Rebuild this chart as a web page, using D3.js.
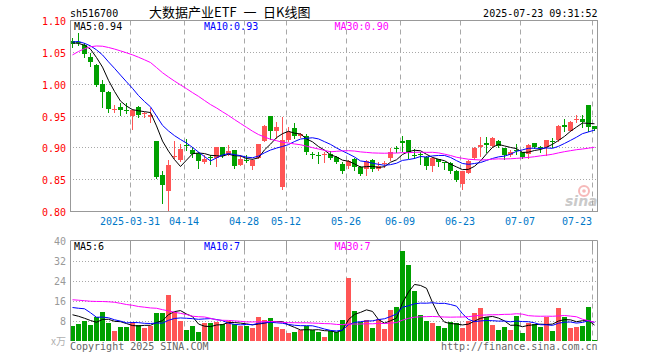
<!DOCTYPE html>
<html><head><meta charset="utf-8">
<script src="https://cdn.jsdelivr.net/npm/d3@7/dist/d3.min.js"></script>
<style>
body{margin:0;background:#fff}
svg{display:block}
text{font-family:"DejaVu Sans Mono",monospace;font-size:10px}
</style>
</head><body>
<svg id="c" width="660" height="360"></svg>
<script>
// ---------------- data ----------------
const dates = [
"2025-03-17","2025-03-18","2025-03-19","2025-03-20","2025-03-21","2025-03-24","2025-03-25","2025-03-26","2025-03-27","2025-03-28","2025-03-31",
"2025-04-01","2025-04-02","2025-04-03","2025-04-07","2025-04-08","2025-04-09","2025-04-10","2025-04-11","2025-04-14","2025-04-15","2025-04-16","2025-04-17","2025-04-18","2025-04-21","2025-04-22","2025-04-23","2025-04-24","2025-04-25","2025-04-28","2025-04-29","2025-04-30",
"2025-05-06","2025-05-07","2025-05-08","2025-05-09","2025-05-12","2025-05-13","2025-05-14","2025-05-15","2025-05-16","2025-05-19","2025-05-20","2025-05-21","2025-05-22","2025-05-23","2025-05-26","2025-05-27","2025-05-28","2025-05-29","2025-05-30",
"2025-06-03","2025-06-04","2025-06-05","2025-06-06","2025-06-09","2025-06-10","2025-06-11","2025-06-12","2025-06-13","2025-06-16","2025-06-17","2025-06-18","2025-06-19","2025-06-20","2025-06-23","2025-06-24","2025-06-25","2025-06-26","2025-06-27","2025-06-30",
"2025-07-01","2025-07-02","2025-07-03","2025-07-04","2025-07-07","2025-07-08","2025-07-09","2025-07-10","2025-07-11","2025-07-14","2025-07-15","2025-07-16","2025-07-17","2025-07-18","2025-07-21","2025-07-22","2025-07-23"];

const open = [1.068,1.067,1.061,1.043,1.030,1.000,0.988,0.960,0.9635,0.960,
0.950,0.964,0.953,0.948,0.911,0.857,0.832,0.885,0.881,0.905,
0.897,0.892,0.878,0.885,0.884,0.901,0.891,0.896,0.873,0.8815,
0.871,0.884,0.911,0.950,0.926,0.838,0.913,0.931,0.919,0.918,
0.890,0.8885,0.890,0.891,0.885,0.875,0.871,0.882,0.870,0.867,
0.881,0.867,0.875,0.884,0.900,0.910,0.912,0.888,0.891,0.885,
0.871,0.882,0.877,0.876,0.864,0.843,0.861,0.884,0.902,0.907,
0.903,0.911,0.899,0.888,0.896,0.893,0.890,0.907,0.902,0.901,
0.910,0.912,0.936,0.927,0.944,0.945,0.967,0.934];
const high = [1.072,1.080,1.064,1.049,1.031,1.007,0.990,0.967,0.970,0.971,
0.961,0.965,0.957,0.963,0.911,0.863,0.881,0.911,0.906,0.9135,
0.901,0.893,0.889,0.889,0.901,0.901,0.905,0.897,0.889,0.889,
0.882,0.906,0.936,0.950,0.941,0.948,0.932,0.939,0.923,0.921,
0.894,0.893,0.894,0.895,0.887,0.877,0.881,0.884,0.871,0.881,
0.882,0.878,0.880,0.899,0.903,0.918,0.913,0.898,0.894,0.887,
0.886,0.883,0.878,0.878,0.865,0.864,0.881,0.902,0.917,0.917,
0.917,0.913,0.900,0.896,0.906,0.894,0.906,0.908,0.903,0.913,
0.915,0.936,0.946,0.942,0.951,0.951,0.968,0.935];
const low = [1.058,1.062,1.042,1.028,0.997,0.964,0.957,0.957,0.9515,0.955,
0.930,0.948,0.949,0.941,0.852,0.8135,0.8005,0.884,0.879,0.897,
0.886,0.868,0.876,0.874,0.871,0.885,0.889,0.868,0.873,0.877,
0.866,0.884,0.910,0.914,0.915,0.835,0.910,0.916,0.917,0.891,
0.884,0.876,0.877,0.882,0.876,0.860,0.869,0.865,0.857,0.858,
0.863,0.865,0.870,0.881,0.893,0.895,0.884,0.884,0.875,0.866,
0.863,0.872,0.867,0.861,0.848,0.835,0.860,0.883,0.887,0.894,
0.901,0.902,0.883,0.887,0.891,0.884,0.884,0.900,0.894,0.888,
0.902,0.910,0.926,0.926,0.941,0.933,0.926,0.928];
const close = [1.063,1.065,1.048,1.035,0.998,0.988,0.961,0.961,0.959,0.959,
0.960,0.952,0.954,0.952,0.854,0.841,0.873,0.8875,0.898,0.904,
0.891,0.879,0.883,0.884,0.901,0.887,0.895,0.871,0.882,0.881,
0.881,0.906,0.934,0.927,0.932,0.912,0.925,0.919,0.921,0.893,
0.889,0.888,0.891,0.884,0.877,0.863,0.880,0.870,0.859,0.880,
0.866,0.871,0.876,0.894,0.899,0.908,0.893,0.887,0.890,0.871,
0.884,0.878,0.876,0.863,0.849,0.863,0.880,0.900,0.905,0.904,
0.915,0.903,0.888,0.893,0.895,0.885,0.905,0.901,0.901,0.912,
0.909,0.935,0.933,0.941,0.945,0.941,0.932,0.930];
// volume in 万 (10k)
const volume = [6.2,7.0,8.2,6.6,9.5,11.8,7.3,4.2,5.8,5.8,
7.8,6.5,5.4,5.9,11.4,11.4,18.6,11.5,7.9,4.6,
6.2,3.8,7.1,7.1,7.8,7.0,8.1,7.0,5.9,6.2,
5.1,9.8,8.6,9.4,5.8,5.0,3.4,3.7,4.3,6.2,
4.6,3.8,1.7,3.9,3.5,8.6,25.1,12.2,7.8,8.6,
5.4,8.9,5.0,12.6,13.8,35.9,30.6,20.2,10.6,8.2,
7.3,6.2,5.4,7.8,7.3,5.4,7.9,11.4,13.4,9.8,
6.6,4.6,5.8,4.6,10.2,3.4,7.3,7.0,5.8,9.5,
4.2,13.4,9.8,5.4,5.8,6.2,13.8,0.6];
// sessions before the visible window (estimated from where the MA lines start)
const prevClose = [0.905,0.920,0.940,0.961,1.000,1.020,1.035,1.045,1.050,1.055,1.065,1.075,1.081,
1.090,1.085,1.075,1.080,1.078,1.082,1.0765,1.055,1.078,1.075,1.060,1.068,1.070,1.062,1.066,1.064];
const prevVolume = [12.5,14.0,13.3,11.8,12.5,10.5,10.0,18.6,20.0,17.3,21.0,13.7,15.0,15.0,
28.5,33.0,28.0,21.5,18.0,26.8,10.0,10.2,22.6,27.5,11.2,10.0,12.2,11.1,13.0];

const priceTicks = [0.80,0.85,0.90,0.95,1.00,1.05,1.10];
const volTicks = [8,16,24,32,40];
const tickDates = ["2025-03-31","2025-04-14","2025-04-28","2025-05-12","2025-05-26","2025-06-09","2025-06-23","2025-07-07","2025-07-23"];
const tickLabels = ["2025-03-31","04-14","04-28","05-12","05-26","06-09","06-23","07-07","07-23"];
const maPeriods = [5,10,30];

// ---------------- drawing ----------------
const RED = "#ff5555", GREEN = "#00a000", GRID = "#a8a8a8", FRAME = "#999";
const maColors = ["#000000","#0000ff","#ff00ff"];
const svg = d3.select("#c");
const L = 70, R = 598, PT = 20.5, PB = 211.5, VT = 241, VB = 341;
const n = dates.length;
const x = d3.scaleBand().domain(d3.range(n)).range([L, R]);
const bw = x.bandwidth() - 1;
const cx = i => x(i) + 2.5;
const y = d3.scaleLinear().domain([0.80, 1.10]).range([PB, PT]);
const yv = d3.scaleLinear().domain([0, 40]).range([VB, VT]);
const crisp = v => Math.round(v - 0.5) + 0.5;

function movingAvg(prev, arr, p) {
  const full = prev.concat(arr), off = prev.length;
  return arr.map((_, i) => d3.mean(full.slice(off + i - p + 1, off + i + 1)));
}
const isUp = i => close[i] >= open[i];
const tickIdx = tickDates.map(d => dates.indexOf(d));

// ---- price panel grid
const gp = svg.append("g");
gp.selectAll("line.h").data(priceTicks.slice(1, -1)).enter().append("line")
  .attr("x1", L).attr("x2", R - 1).attr("y1", d => crisp(y(d))).attr("y2", d => crisp(y(d)))
  .attr("stroke", GRID).attr("stroke-dasharray", "1,2");
gp.selectAll("line.v").data(tickIdx).enter().append("line")
  .attr("x1", d => x(d) + 0.5).attr("x2", d => x(d) + 0.5).attr("y1", PT).attr("y2", PB)
  .attr("stroke", GRID).attr("stroke-dasharray", "5,4");
gp.selectAll("line.t").data(tickIdx).enter().append("line")
  .attr("x1", d => x(d) + 0.5).attr("x2", d => x(d) + 0.5).attr("y1", PB - 3).attr("y2", PB)
  .attr("stroke", FRAME);

// ---- candles
const cg = svg.append("g");
d3.range(n).forEach(i => {
  const col = isUp(i) ? RED : GREEN;
  cg.append("line").attr("x1", cx(i)).attr("x2", cx(i))
    .attr("y1", Math.round(y(high[i]))).attr("y2", Math.round(y(low[i])) + 1)
    .attr("stroke", col);
  const top = Math.round(y(Math.max(open[i], close[i])));
  const bot = Math.round(y(Math.min(open[i], close[i])));
  cg.append("rect").attr("x", x(i)).attr("width", bw)
    .attr("y", top).attr("height", Math.max(1, bot - top)).attr("fill", col);
});

// ---- price MAs
const priceMA = maPeriods.map(p => movingAvg(prevClose, close, p));
const line = d3.line().x((d, i) => cx(i)).y(d => y(d));
priceMA.forEach((ma, k) => {
  svg.append("path").attr("d", line(ma)).attr("fill", "none")
    .attr("stroke", maColors[k]).attr("stroke-width", 1);
});

// ---- price frame
svg.append("rect").attr("x", L + 0.5).attr("y", PT).attr("width", R - L - 1).attr("height", PB - PT)
  .attr("fill", "none").attr("stroke", FRAME);

// ---- price axis labels
svg.selectAll("text.py").data(priceTicks).enter().append("text")
  .attr("x", 66).attr("y", d => y(d) + 4.5).attr("text-anchor", "end")
  .attr("fill", "#ff0000").text(d => d.toFixed(2));

// ---- date labels
svg.selectAll("text.dx").data(tickIdx).enter().append("text")
  .attr("x", (d, k) => k === tickIdx.length - 1 ? x(d) : x(d))
  .attr("y", 224.5)
  .attr("text-anchor", (d, k) => k === tickIdx.length - 1 ? "end" : "middle")
  .attr("fill", "#0078c8").text((d, k) => tickLabels[k]);

// ---- header
svg.append("text").attr("x", 70).attr("y", 16.5).attr("fill", "#000").text("sh516700");
const tf = "'Noto Sans CJK SC',sans-serif";
svg.append("text").attr("x", 149).attr("y", 17).style("font-family", tf).style("font-size", "13px")
  .attr("fill", "#000").text("大数据产业ETF");
svg.append("text").attr("x", 250).attr("y", 17).attr("text-anchor", "middle").style("font-family", tf)
  .style("font-size", "13px").attr("fill", "#000").text("一");
svg.append("text").attr("x", 263).attr("y", 17).style("font-family", tf).style("font-size", "13px")
  .attr("fill", "#000").text("日K线图");
svg.append("text").attr("x", 597.5).attr("y", 16.5).attr("text-anchor", "end").attr("fill", "#000")
  .text("2025-07-23 09:31:52");

const maX = [74, 204, 334.5];
priceMA.forEach((ma, k) => {
  svg.append("text").attr("x", maX[k]).attr("y", 29.5).attr("fill", maColors[k])
    .text("MA" + maPeriods[k] + ":" + ma[n - 1].toFixed(2));
});

// ---- sina logo
const lg = svg.append("g").attr("opacity", 0.55);
lg.append("circle").attr("cx", 584).attr("cy", 191).attr("r", 5).attr("fill", "none")
  .attr("stroke", "#f08080").attr("stroke-width", 2);
lg.append("circle").attr("cx", 584).attr("cy", 191).attr("r", 1.8).attr("fill", "#f08080");
lg.append("text").attr("x", 565).attr("y", 206).style("font-family", "'DejaVu Sans',sans-serif")
  .style("font-size", "14px").style("font-style", "italic").style("font-weight", "bold")
  .attr("fill", "#a0a0a0").text("sina");

// ---- volume panel grid
const gv = svg.append("g");
gv.selectAll("line.h").data(volTicks.slice(0, -1)).enter().append("line")
  .attr("x1", L).attr("x2", R - 1).attr("y1", d => crisp(yv(d))).attr("y2", d => crisp(yv(d)))
  .attr("stroke", GRID).attr("stroke-dasharray", "1,2");
gv.selectAll("line.v").data(tickIdx).enter().append("line")
  .attr("x1", d => x(d) + 0.5).attr("x2", d => x(d) + 0.5).attr("y1", VT - 0.5).attr("y2", VB)
  .attr("stroke", GRID).attr("stroke-dasharray", "5,4");
gv.selectAll("line.t").data(tickIdx).enter().append("line")
  .attr("x1", d => x(d) + 0.5).attr("x2", d => x(d) + 0.5).attr("y1", VT - 0.5).attr("y2", VT + 9)
  .attr("stroke", FRAME);

// ---- volume bars
svg.append("g").selectAll("rect").data(volume).enter().append("rect")
  .attr("x", (d, i) => x(i)).attr("width", bw)
  .attr("y", d => Math.round(yv(d))).attr("height", d => VB - Math.round(yv(d)))
  .attr("fill", (d, i) => isUp(i) ? RED : GREEN);

// ---- volume MAs
const volMA = maPeriods.map(p => movingAvg(prevVolume, volume, p));
const vline = d3.line().x((d, i) => cx(i)).y(d => yv(d));
volMA.forEach((ma, k) => {
  svg.append("path").attr("d", vline(ma)).attr("fill", "none")
    .attr("stroke", maColors[k]).attr("stroke-width", 1);
});

// ---- volume frame (left, top, right)
svg.append("path").attr("d", `M${L + 0.5},${VB}V${VT - 0.5}H${R - 0.5}V${VB}`)
  .attr("fill", "none").attr("stroke", FRAME);

svg.selectAll("text.vy").data(volTicks).enter().append("text")
  .attr("x", 66).attr("y", d => yv(d) + 3.5).attr("text-anchor", "end")
  .attr("fill", "#999").text(d => d);
svg.append("text").attr("x", 66).attr("y", 344.5).attr("text-anchor", "end")
  .style("font-family", "'Noto Sans CJK SC',sans-serif").style("font-size", "10px")
  .attr("fill", "#b0b0b0").text("x万");

volMA.forEach((ma, k) => {
  svg.append("text").attr("x", maX[k]).attr("y", 250).attr("fill", maColors[k])
    .text("MA" + maPeriods[k] + ":" + Math.round(ma[n - 1]));
});

// ---- footer
svg.append("text").attr("x", 70).attr("y", 349.5).attr("fill", "#666").text("Copyright 2025 SINA.COM");
svg.append("text").attr("x", 597.5).attr("y", 349.5).attr("text-anchor", "end").attr("fill", "#666")
  .text("http://finance.sina.com.cn");
</script>
</body></html>
